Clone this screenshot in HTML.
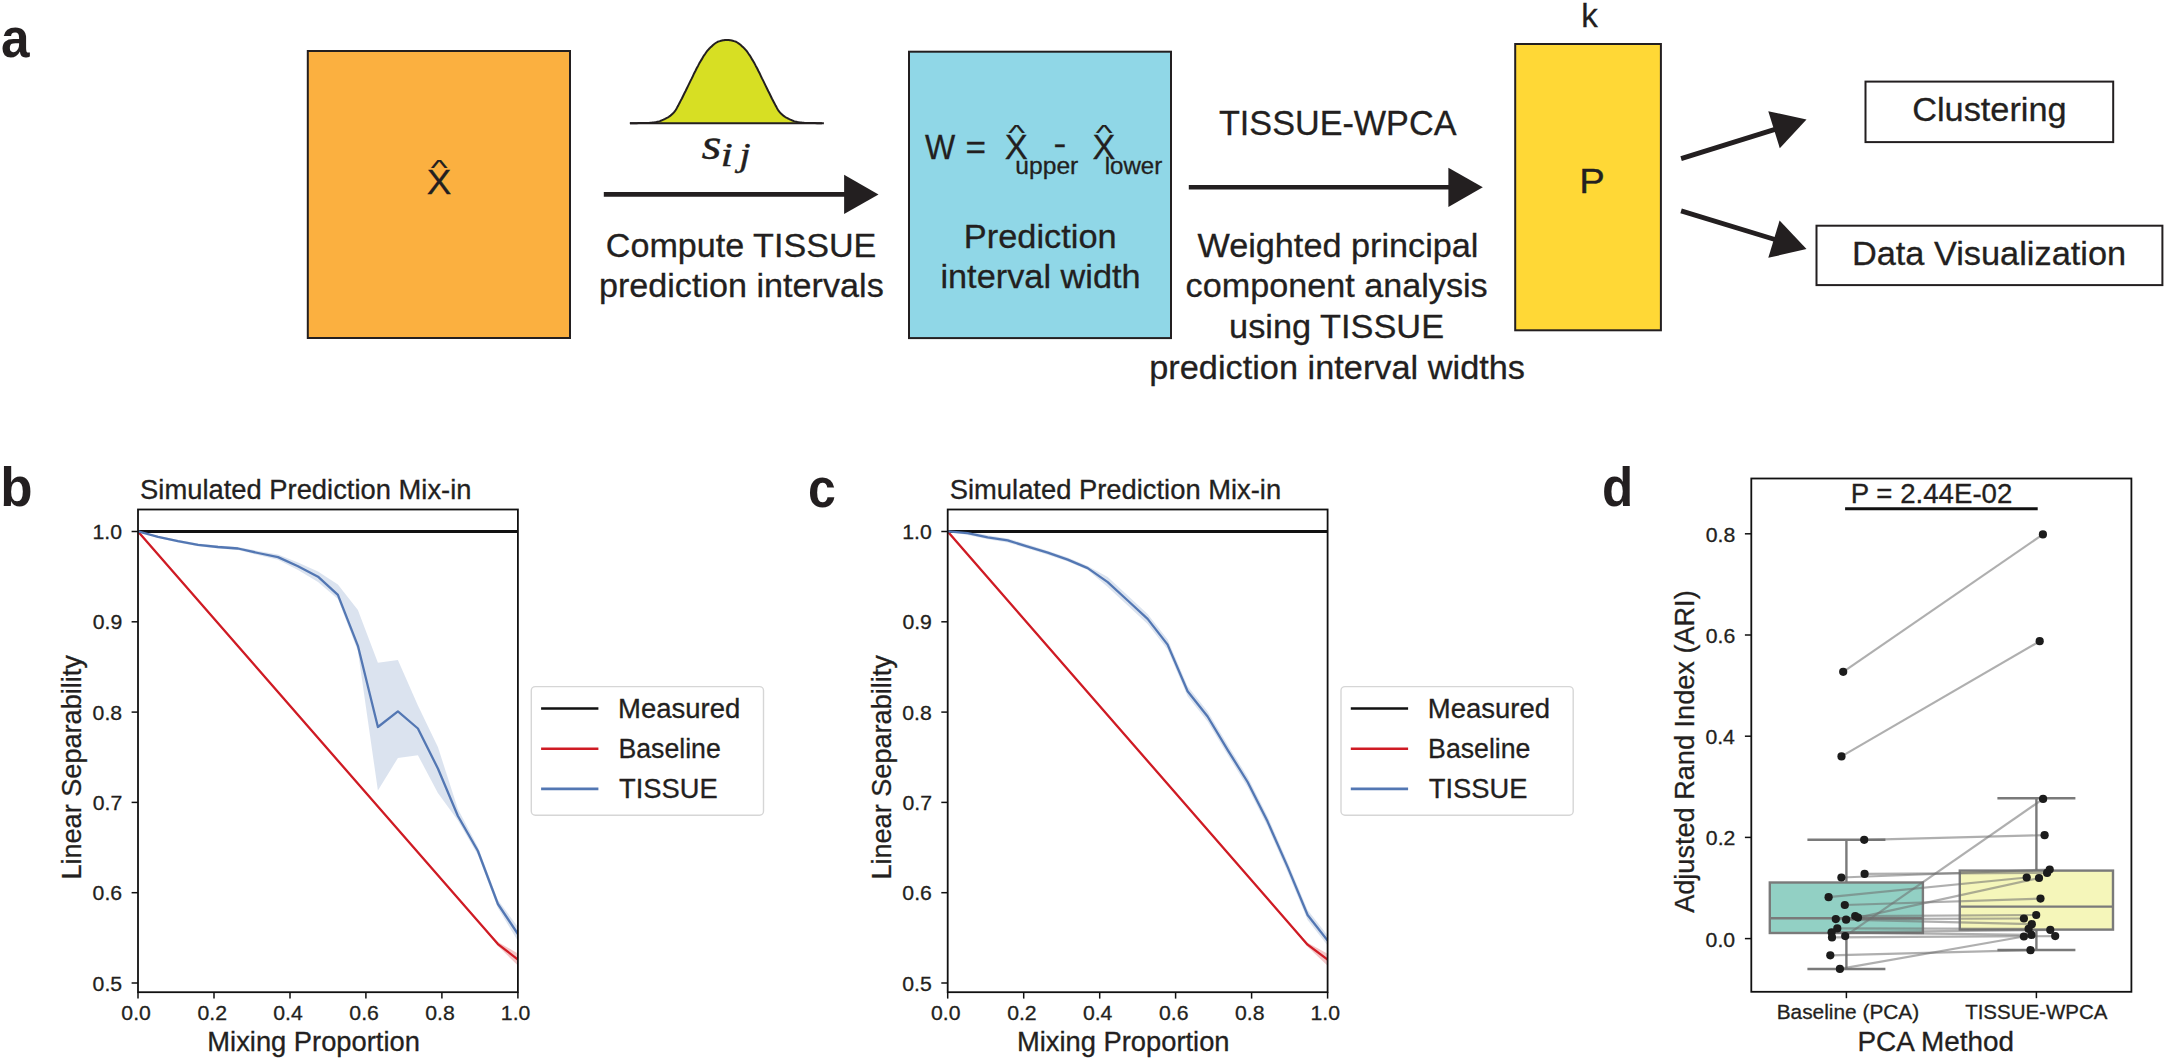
<!DOCTYPE html>
<html lang="en"><head><meta charset="utf-8"><title>TISSUE-WPCA figure</title>
<style>
html,body{margin:0;padding:0;background:#fff;}
body{width:2168px;height:1061px;overflow:hidden;}
svg{display:block;}
svg text{font-family:"Liberation Sans",Arial,Helvetica,sans-serif;stroke:#231f20;stroke-width:0.3px;}
svg text.math{font-family:"Liberation Serif","Times New Roman",serif;font-style:italic;}
</style></head><body>
<svg width="2168" height="1061" viewBox="0 0 2168 1061">
<rect width="2168" height="1061" fill="#ffffff"/>
<g id="panel-a">
<rect x="307.8" y="51" width="262.2" height="287" fill="#fbb040" stroke="#231f20" stroke-width="2"/>
<text x="426.79" y="194.4" font-size="34.9" textLength="24.58" lengthAdjust="spacingAndGlyphs" fill="#231f20">X</text>
<text transform="translate(439.2,175.47) scale(1,0.6)" font-size="35.8" text-anchor="middle" fill="#231f20" style="stroke-width:0.15px">^</text>
<path d="M629.9,123.2 L632.1,123.2 L634.4,123.2 L636.6,123.2 L638.8,123.1 L641.1,123.1 L643.3,123.0 L645.5,123.0 L647.7,122.9 L649.0,122.9 L650.2,122.8 L651.4,122.7 L652.7,122.5 L653.9,122.4 L655.2,122.2 L656.4,122.0 L657.6,121.7 L658.4,121.6 L659.1,121.4 L659.9,121.1 L660.6,120.8 L661.3,120.5 L662.1,120.2 L662.8,119.9 L663.6,119.6 L664.3,119.2 L665.0,118.9 L665.8,118.5 L666.5,118.1 L667.3,117.7 L668.0,117.3 L668.8,116.8 L669.5,116.3 L670.1,115.9 L670.7,115.4 L671.4,114.9 L672.0,114.3 L672.6,113.7 L673.2,113.1 L673.8,112.5 L674.5,111.7 L675.1,110.9 L675.7,110.0 L676.3,109.0 L676.9,107.9 L677.5,106.7 L678.2,105.6 L678.8,104.4 L679.4,103.2 L680.6,100.9 L681.9,98.5 L683.1,96.0 L684.3,93.5 L685.6,91.0 L686.8,88.5 L688.1,85.9 L689.3,83.4 L690.5,80.9 L691.8,78.4 L693.0,75.8 L694.2,73.2 L695.5,70.7 L696.7,68.2 L698.0,65.9 L699.2,63.6 L700.4,61.5 L701.7,59.4 L702.9,57.3 L704.1,55.3 L705.4,53.5 L706.6,51.7 L707.9,50.2 L709.1,48.8 L710.3,47.6 L711.6,46.4 L712.8,45.3 L714.0,44.2 L715.3,43.3 L716.5,42.5 L717.7,41.8 L719.0,41.4 L720.0,41.1 L721.0,40.8 L722.0,40.6 L722.9,40.3 L723.9,40.2 L724.9,40.0 L725.9,39.9 L726.9,39.9 L727.9,39.9 L728.9,40.0 L729.9,40.2 L730.9,40.3 L731.8,40.6 L732.8,40.8 L733.8,41.1 L734.8,41.4 L736.1,41.8 L737.3,42.5 L738.5,43.3 L739.8,44.2 L741.0,45.3 L742.2,46.4 L743.5,47.6 L744.7,48.8 L745.9,50.2 L747.2,51.7 L748.4,53.5 L749.7,55.3 L750.9,57.3 L752.1,59.4 L753.4,61.5 L754.6,63.6 L755.8,65.9 L757.1,68.2 L758.3,70.7 L759.6,73.2 L760.8,75.8 L762.0,78.4 L763.3,80.9 L764.5,83.4 L765.7,85.9 L767.0,88.5 L768.2,91.0 L769.5,93.5 L770.7,96.0 L771.9,98.5 L773.2,100.9 L774.4,103.2 L775.0,104.4 L775.6,105.6 L776.3,106.7 L776.9,107.9 L777.5,109.0 L778.1,110.0 L778.7,110.9 L779.3,111.7 L780.0,112.5 L780.6,113.1 L781.2,113.7 L781.8,114.3 L782.4,114.9 L783.1,115.4 L783.7,115.9 L784.3,116.3 L785.0,116.8 L785.8,117.3 L786.5,117.7 L787.3,118.1 L788.0,118.5 L788.8,118.9 L789.5,119.2 L790.2,119.6 L791.0,119.9 L791.7,120.2 L792.5,120.5 L793.2,120.8 L793.9,121.1 L794.7,121.4 L795.4,121.6 L796.2,121.7 L797.4,122.0 L798.6,122.2 L799.9,122.4 L801.1,122.5 L802.4,122.7 L803.6,122.8 L804.8,122.9 L806.1,122.9 L808.3,123.0 L810.5,123.0 L812.7,123.1 L815.0,123.1 L817.2,123.2 L819.4,123.2 L821.7,123.2 L823.9,123.2 Z" fill="#d7df23" stroke="none"/>
<path d="M629.9,123.2 L632.1,123.2 L634.4,123.2 L636.6,123.2 L638.8,123.1 L641.1,123.1 L643.3,123.0 L645.5,123.0 L647.7,122.9 L649.0,122.9 L650.2,122.8 L651.4,122.7 L652.7,122.5 L653.9,122.4 L655.2,122.2 L656.4,122.0 L657.6,121.7 L658.4,121.6 L659.1,121.4 L659.9,121.1 L660.6,120.8 L661.3,120.5 L662.1,120.2 L662.8,119.9 L663.6,119.6 L664.3,119.2 L665.0,118.9 L665.8,118.5 L666.5,118.1 L667.3,117.7 L668.0,117.3 L668.8,116.8 L669.5,116.3 L670.1,115.9 L670.7,115.4 L671.4,114.9 L672.0,114.3 L672.6,113.7 L673.2,113.1 L673.8,112.5 L674.5,111.7 L675.1,110.9 L675.7,110.0 L676.3,109.0 L676.9,107.9 L677.5,106.7 L678.2,105.6 L678.8,104.4 L679.4,103.2 L680.6,100.9 L681.9,98.5 L683.1,96.0 L684.3,93.5 L685.6,91.0 L686.8,88.5 L688.1,85.9 L689.3,83.4 L690.5,80.9 L691.8,78.4 L693.0,75.8 L694.2,73.2 L695.5,70.7 L696.7,68.2 L698.0,65.9 L699.2,63.6 L700.4,61.5 L701.7,59.4 L702.9,57.3 L704.1,55.3 L705.4,53.5 L706.6,51.7 L707.9,50.2 L709.1,48.8 L710.3,47.6 L711.6,46.4 L712.8,45.3 L714.0,44.2 L715.3,43.3 L716.5,42.5 L717.7,41.8 L719.0,41.4 L720.0,41.1 L721.0,40.8 L722.0,40.6 L722.9,40.3 L723.9,40.2 L724.9,40.0 L725.9,39.9 L726.9,39.9 L727.9,39.9 L728.9,40.0 L729.9,40.2 L730.9,40.3 L731.8,40.6 L732.8,40.8 L733.8,41.1 L734.8,41.4 L736.1,41.8 L737.3,42.5 L738.5,43.3 L739.8,44.2 L741.0,45.3 L742.2,46.4 L743.5,47.6 L744.7,48.8 L745.9,50.2 L747.2,51.7 L748.4,53.5 L749.7,55.3 L750.9,57.3 L752.1,59.4 L753.4,61.5 L754.6,63.6 L755.8,65.9 L757.1,68.2 L758.3,70.7 L759.6,73.2 L760.8,75.8 L762.0,78.4 L763.3,80.9 L764.5,83.4 L765.7,85.9 L767.0,88.5 L768.2,91.0 L769.5,93.5 L770.7,96.0 L771.9,98.5 L773.2,100.9 L774.4,103.2 L775.0,104.4 L775.6,105.6 L776.3,106.7 L776.9,107.9 L777.5,109.0 L778.1,110.0 L778.7,110.9 L779.3,111.7 L780.0,112.5 L780.6,113.1 L781.2,113.7 L781.8,114.3 L782.4,114.9 L783.1,115.4 L783.7,115.9 L784.3,116.3 L785.0,116.8 L785.8,117.3 L786.5,117.7 L787.3,118.1 L788.0,118.5 L788.8,118.9 L789.5,119.2 L790.2,119.6 L791.0,119.9 L791.7,120.2 L792.5,120.5 L793.2,120.8 L793.9,121.1 L794.7,121.4 L795.4,121.6 L796.2,121.7 L797.4,122.0 L798.6,122.2 L799.9,122.4 L801.1,122.5 L802.4,122.7 L803.6,122.8 L804.8,122.9 L806.1,122.9 L808.3,123.0 L810.5,123.0 L812.7,123.1 L815.0,123.1 L817.2,123.2 L819.4,123.2 L821.7,123.2 L823.9,123.2" fill="none" stroke="#231f20" stroke-width="2" stroke-linejoin="round"/>
<line x1="629.9" y1="123.2" x2="821.9" y2="123.2" stroke="#231f20" stroke-width="2.1"/>
<text class="math" transform="translate(701.4,158.8) scale(1.17,1)" font-size="44" fill="#231f20">s</text>
<text class="math" transform="translate(720.5,165.8) scale(1.35,1)" font-size="33" fill="#231f20">i</text>
<text class="math" transform="translate(739.2,165.8) scale(1.25,1)" font-size="33" fill="#231f20">j</text>
<line x1="603.8" y1="194.4" x2="845.1" y2="194.4" stroke="#231f20" stroke-width="4.6"/>
<polygon points="844.1,174.8 878.5,194.4 844.1,214.0" fill="#231f20"/>
<text x="605.78" y="256.6" font-size="34.1" textLength="270.56" lengthAdjust="spacingAndGlyphs" fill="#231f20">Compute TISSUE</text>
<text x="598.91" y="297.4" font-size="34.1" textLength="284.81" lengthAdjust="spacingAndGlyphs" fill="#231f20">prediction intervals</text>
<rect x="909" y="51.7" width="262" height="286.4" fill="#90d7e7" stroke="#231f20" stroke-width="2"/>
<text x="925.07" y="159.3" font-size="34.9" textLength="30.24" lengthAdjust="spacingAndGlyphs" fill="#231f20">W</text>
<text x="965.50" y="159.3" font-size="34.1" textLength="20.53" lengthAdjust="spacingAndGlyphs" fill="#231f20">=</text>
<text x="1004.74" y="159.0" font-size="34.9" textLength="22.98" lengthAdjust="spacingAndGlyphs" fill="#231f20">X</text>
<text transform="translate(1016.7,139.97) scale(1,0.6)" font-size="35.8" text-anchor="middle" fill="#231f20" style="stroke-width:0.15px">^</text>
<text x="1053.61" y="155.4" font-size="34.1" textLength="12.78" lengthAdjust="spacingAndGlyphs" fill="#231f20">-</text>
<text x="1092.55" y="159.0" font-size="34.9" textLength="22.77" lengthAdjust="spacingAndGlyphs" fill="#231f20">X</text>
<text transform="translate(1104.2,139.97) scale(1,0.6)" font-size="35.8" text-anchor="middle" fill="#231f20" style="stroke-width:0.15px">^</text>
<text x="1015.31" y="173.8" font-size="24" textLength="63.00" lengthAdjust="spacingAndGlyphs" fill="#231f20">upper</text>
<text x="1104.69" y="173.8" font-size="24" textLength="57.51" lengthAdjust="spacingAndGlyphs" fill="#231f20">lower</text>
<text x="963.88" y="247.6" font-size="34.1" textLength="152.85" lengthAdjust="spacingAndGlyphs" fill="#231f20">Prediction</text>
<text x="940.42" y="288.3" font-size="34.1" textLength="200.30" lengthAdjust="spacingAndGlyphs" fill="#231f20">interval width</text>
<text x="1218.95" y="135.1" font-size="34.9" textLength="237.50" lengthAdjust="spacingAndGlyphs" fill="#231f20">TISSUE-WPCA</text>
<line x1="1188.8" y1="187.3" x2="1449.3999999999999" y2="187.3" stroke="#231f20" stroke-width="4.6"/>
<polygon points="1448.3999999999999,167.70000000000002 1482.8,187.3 1448.3999999999999,206.9" fill="#231f20"/>
<text x="1197.46" y="256.5" font-size="34.1" textLength="281.02" lengthAdjust="spacingAndGlyphs" fill="#231f20">Weighted principal</text>
<text x="1185.56" y="297.1" font-size="34.1" textLength="302.16" lengthAdjust="spacingAndGlyphs" fill="#231f20">component analysis</text>
<text x="1229.09" y="338.1" font-size="34.1" textLength="214.96" lengthAdjust="spacingAndGlyphs" fill="#231f20">using TISSUE</text>
<text x="1149.20" y="379.0" font-size="34.1" textLength="375.83" lengthAdjust="spacingAndGlyphs" fill="#231f20">prediction interval widths</text>
<rect x="1515.2" y="44" width="145.7" height="286.3" fill="#ffd836" stroke="#231f20" stroke-width="2"/>
<text x="1581.28" y="26.6" font-size="34.1" textLength="16.57" lengthAdjust="spacingAndGlyphs" fill="#231f20">k</text>
<text x="1579.26" y="193" font-size="34.9" textLength="25.55" lengthAdjust="spacingAndGlyphs" fill="#231f20">P</text>
<line x1="1681.1" y1="158.6" x2="1775.0" y2="129.4" stroke="#231f20" stroke-width="4.8"/>
<polygon points="1779.8,148.2 1806.5,119.6 1768.3,111.2" fill="#231f20"/>
<line x1="1681.1" y1="210.9" x2="1774.9" y2="239.5" stroke="#231f20" stroke-width="4.8"/>
<polygon points="1768.3,257.8 1806.5,249.1 1779.6,220.6" fill="#231f20"/>
<rect x="1865.5" y="81.6" width="247.7" height="60.5" fill="#fff" stroke="#231f20" stroke-width="2"/>
<text x="1912.17" y="120.6" font-size="34.1" textLength="154.43" lengthAdjust="spacingAndGlyphs" fill="#231f20">Clustering</text>
<rect x="1816.5" y="225.7" width="345.9" height="59.4" fill="#fff" stroke="#231f20" stroke-width="2"/>
<text x="1851.88" y="264.6" font-size="34.1" textLength="274.24" lengthAdjust="spacingAndGlyphs" fill="#231f20">Data Visualization</text>
</g>
<text x="1.11" y="56.5" font-size="55" textLength="28.56" lengthAdjust="spacingAndGlyphs" fill="#231f20" font-weight="bold" style="stroke:none">a</text>
<text x="0.13" y="506.4" font-size="55" textLength="32.33" lengthAdjust="spacingAndGlyphs" fill="#231f20" font-weight="bold" style="stroke:none">b</text>
<text x="808.05" y="506.5" font-size="55" textLength="27.81" lengthAdjust="spacingAndGlyphs" fill="#231f20" font-weight="bold" style="stroke:none">c</text>
<text x="1602.00" y="506.1" font-size="55" textLength="31.27" lengthAdjust="spacingAndGlyphs" fill="#231f20" font-weight="bold" style="stroke:none">d</text>
<g id="panel-b">
<clipPath id="clip-panel-b"><rect x="138.0" y="509.5" width="379.9" height="482.70000000000005"/></clipPath>
<g clip-path="url(#clip-panel-b)">
<polygon points="138.0,531.4 158.0,535.8 178.0,540.0 198.0,543.5 218.0,545.5 238.0,547.0 258.0,551.0 278.0,554.5 298.0,562.5 318.0,571.5 337.9,584.5 357.9,610.0 377.9,662.7 397.9,660.0 417.9,705.5 437.9,747.0 457.9,809.0 477.9,847.0 497.9,900.0 517.9,927.0 517.9,941.0 497.9,908.0 477.9,855.0 457.9,820.5 437.9,793.0 417.9,755.2 397.9,758.0 377.9,790.5 357.9,651.0 337.9,599.0 318.0,582.0 298.0,570.0 278.0,559.7 258.0,555.0 238.0,550.0 218.0,548.5 198.0,546.3 178.0,542.4 158.0,537.8 138.0,531.4" fill="#5b7eb6" fill-opacity="0.22"/>
<polygon points="477.9,921.2 497.9,942.1 517.9,953.5 517.9,965.5 497.9,946.1" fill="#cf1b24" fill-opacity="0.25"/>
<line x1="138.0" y1="531.5" x2="517.9" y2="531.5" stroke="#111" stroke-width="2.8"/>
<polyline points="138.0,531.5 497.9,944.1 517.9,959.5" fill="none" stroke="#cf1b24" stroke-width="2.3" stroke-linejoin="round"/>
<polyline points="138.0,531.4 158.0,536.8 178.0,541.2 198.0,544.9 218.0,547.0 238.0,548.5 258.0,553.0 278.0,557.1 298.0,566.2 318.0,576.7 337.9,594.9 357.9,645.8 377.9,727.0 397.9,711.4 417.9,728.5 437.9,768.5 457.9,816.0 477.9,851.0 497.9,904.0 517.9,934.0" fill="none" stroke="#5377b3" stroke-width="2.3" stroke-linejoin="round"/>
</g>
<rect x="138.0" y="509.5" width="379.9" height="482.7" fill="none" stroke="#111" stroke-width="1.8"/>
<line x1="131.6" y1="983.0" x2="138.0" y2="983.0" stroke="#111" stroke-width="1.5"/>
<text x="92.59" y="990.5" font-size="20.5" textLength="29.50" lengthAdjust="spacingAndGlyphs" fill="#231f20">0.5</text>
<line x1="138.0" y1="992.2" x2="138.0" y2="998.6" stroke="#111" stroke-width="1.5"/>
<text x="121.35" y="1019.7" font-size="20.5" textLength="29.50" lengthAdjust="spacingAndGlyphs" fill="#231f20">0.0</text>
<line x1="131.6" y1="892.7" x2="138.0" y2="892.7" stroke="#111" stroke-width="1.5"/>
<text x="92.63" y="900.2" font-size="20.5" textLength="29.50" lengthAdjust="spacingAndGlyphs" fill="#231f20">0.6</text>
<line x1="214.0" y1="992.2" x2="214.0" y2="998.6" stroke="#111" stroke-width="1.5"/>
<text x="197.45" y="1019.7" font-size="20.5" textLength="29.50" lengthAdjust="spacingAndGlyphs" fill="#231f20">0.2</text>
<line x1="131.6" y1="802.4" x2="138.0" y2="802.4" stroke="#111" stroke-width="1.5"/>
<text x="92.77" y="809.9" font-size="20.5" textLength="29.50" lengthAdjust="spacingAndGlyphs" fill="#231f20">0.7</text>
<line x1="290.0" y1="992.2" x2="290.0" y2="998.6" stroke="#111" stroke-width="1.5"/>
<text x="273.21" y="1019.7" font-size="20.5" textLength="29.50" lengthAdjust="spacingAndGlyphs" fill="#231f20">0.4</text>
<line x1="131.6" y1="712.1" x2="138.0" y2="712.1" stroke="#111" stroke-width="1.5"/>
<text x="92.62" y="719.6" font-size="20.5" textLength="29.50" lengthAdjust="spacingAndGlyphs" fill="#231f20">0.8</text>
<line x1="365.9" y1="992.2" x2="365.9" y2="998.6" stroke="#111" stroke-width="1.5"/>
<text x="349.34" y="1019.7" font-size="20.5" textLength="29.50" lengthAdjust="spacingAndGlyphs" fill="#231f20">0.6</text>
<line x1="131.6" y1="621.8" x2="138.0" y2="621.8" stroke="#111" stroke-width="1.5"/>
<text x="92.70" y="629.3" font-size="20.5" textLength="29.50" lengthAdjust="spacingAndGlyphs" fill="#231f20">0.9</text>
<line x1="441.9" y1="992.2" x2="441.9" y2="998.6" stroke="#111" stroke-width="1.5"/>
<text x="425.32" y="1019.7" font-size="20.5" textLength="29.50" lengthAdjust="spacingAndGlyphs" fill="#231f20">0.8</text>
<line x1="131.6" y1="531.5" x2="138.0" y2="531.5" stroke="#111" stroke-width="1.5"/>
<text x="92.52" y="539.0" font-size="20.5" textLength="29.50" lengthAdjust="spacingAndGlyphs" fill="#231f20">1.0</text>
<line x1="517.9" y1="992.2" x2="517.9" y2="998.6" stroke="#111" stroke-width="1.5"/>
<text x="500.86" y="1019.7" font-size="20.5" textLength="29.50" lengthAdjust="spacingAndGlyphs" fill="#231f20">1.0</text>
<text x="140.07" y="499.2" font-size="26.8" textLength="331.40" lengthAdjust="spacingAndGlyphs" fill="#231f20">Simulated Prediction Mix-in</text>
<text x="207.36" y="1051.3" font-size="26.8" textLength="212.51" lengthAdjust="spacingAndGlyphs" fill="#231f20">Mixing Proportion</text>
<text transform="translate(81.40,879.62) rotate(-90)" font-size="26.8" textLength="224.46" lengthAdjust="spacingAndGlyphs" fill="#231f20">Linear Separability</text>
<rect x="531.3" y="686.6" width="232.2" height="128.6" rx="4" ry="4" fill="#fff" stroke="#d6d6d6" stroke-width="1.4"/>
<line x1="541.0999999999999" y1="708.5" x2="598.4" y2="708.5" stroke="#111" stroke-width="2.6"/>
<text x="618.05" y="718.0" font-size="26.8" textLength="122.22" lengthAdjust="spacingAndGlyphs" fill="#231f20">Measured</text>
<line x1="541.0999999999999" y1="748.7" x2="598.4" y2="748.7" stroke="#cf1b24" stroke-width="2.6"/>
<text x="618.41" y="758.2" font-size="26.8" textLength="102.36" lengthAdjust="spacingAndGlyphs" fill="#231f20">Baseline</text>
<line x1="541.0999999999999" y1="788.9" x2="598.4" y2="788.9" stroke="#5377b3" stroke-width="2.6"/>
<text x="619.10" y="798.4" font-size="26.8" textLength="98.66" lengthAdjust="spacingAndGlyphs" fill="#231f20">TISSUE</text>
</g>
<g id="panel-c">
<clipPath id="clip-panel-c"><rect x="947.7" y="509.5" width="379.89999999999986" height="482.70000000000005"/></clipPath>
<g clip-path="url(#clip-panel-c)">
<polygon points="947.7,531.4 967.7,531.1 987.7,535.3 1007.7,538.4 1027.7,544.6 1047.7,550.7 1067.7,557.6 1087.7,566.1 1107.7,577.1 1127.7,595.5 1147.6,613.9 1167.6,639.6 1187.6,686.2 1207.6,711.5 1227.6,744.8 1247.6,777.0 1267.6,816.6 1287.6,861.9 1307.6,910.0 1327.6,935.5 1327.6,945.5 1307.6,920.0 1287.6,871.9 1267.6,826.6 1247.6,787.0 1227.6,754.8 1207.6,721.5 1187.6,696.2 1167.6,649.6 1147.6,623.9 1127.7,605.5 1107.7,587.1 1087.7,570.1 1067.7,561.6 1047.7,554.7 1027.7,548.6 1007.7,542.4 987.7,539.3 967.7,535.1 947.7,531.4" fill="#5b7eb6" fill-opacity="0.22"/>
<polygon points="1287.6,921.7 1307.6,942.7 1327.6,953.7 1327.6,965.7 1307.6,946.7" fill="#cf1b24" fill-opacity="0.25"/>
<line x1="947.7" y1="531.5" x2="1327.6" y2="531.5" stroke="#111" stroke-width="2.8"/>
<polyline points="947.7,531.5 1307.6,944.7 1327.6,959.7" fill="none" stroke="#cf1b24" stroke-width="2.3" stroke-linejoin="round"/>
<polyline points="947.7,531.4 967.7,533.1 987.7,537.3 1007.7,540.4 1027.7,546.6 1047.7,552.7 1067.7,559.6 1087.7,568.1 1107.7,582.1 1127.7,600.5 1147.6,618.9 1167.6,644.6 1187.6,691.2 1207.6,716.5 1227.6,749.8 1247.6,782.0 1267.6,821.6 1287.6,866.9 1307.6,915.0 1327.6,940.5" fill="none" stroke="#5377b3" stroke-width="2.3" stroke-linejoin="round"/>
</g>
<rect x="947.7" y="509.5" width="379.9" height="482.7" fill="none" stroke="#111" stroke-width="1.8"/>
<line x1="941.3000000000001" y1="983.0" x2="947.7" y2="983.0" stroke="#111" stroke-width="1.5"/>
<text x="902.29" y="990.5" font-size="20.5" textLength="29.50" lengthAdjust="spacingAndGlyphs" fill="#231f20">0.5</text>
<line x1="947.7" y1="992.2" x2="947.7" y2="998.6" stroke="#111" stroke-width="1.5"/>
<text x="931.05" y="1019.7" font-size="20.5" textLength="29.50" lengthAdjust="spacingAndGlyphs" fill="#231f20">0.0</text>
<line x1="941.3000000000001" y1="892.7" x2="947.7" y2="892.7" stroke="#111" stroke-width="1.5"/>
<text x="902.33" y="900.2" font-size="20.5" textLength="29.50" lengthAdjust="spacingAndGlyphs" fill="#231f20">0.6</text>
<line x1="1023.7" y1="992.2" x2="1023.7" y2="998.6" stroke="#111" stroke-width="1.5"/>
<text x="1007.15" y="1019.7" font-size="20.5" textLength="29.50" lengthAdjust="spacingAndGlyphs" fill="#231f20">0.2</text>
<line x1="941.3000000000001" y1="802.4" x2="947.7" y2="802.4" stroke="#111" stroke-width="1.5"/>
<text x="902.47" y="809.9" font-size="20.5" textLength="29.50" lengthAdjust="spacingAndGlyphs" fill="#231f20">0.7</text>
<line x1="1099.7" y1="992.2" x2="1099.7" y2="998.6" stroke="#111" stroke-width="1.5"/>
<text x="1082.91" y="1019.7" font-size="20.5" textLength="29.50" lengthAdjust="spacingAndGlyphs" fill="#231f20">0.4</text>
<line x1="941.3000000000001" y1="712.1" x2="947.7" y2="712.1" stroke="#111" stroke-width="1.5"/>
<text x="902.32" y="719.6" font-size="20.5" textLength="29.50" lengthAdjust="spacingAndGlyphs" fill="#231f20">0.8</text>
<line x1="1175.6" y1="992.2" x2="1175.6" y2="998.6" stroke="#111" stroke-width="1.5"/>
<text x="1159.04" y="1019.7" font-size="20.5" textLength="29.50" lengthAdjust="spacingAndGlyphs" fill="#231f20">0.6</text>
<line x1="941.3000000000001" y1="621.8" x2="947.7" y2="621.8" stroke="#111" stroke-width="1.5"/>
<text x="902.40" y="629.3" font-size="20.5" textLength="29.50" lengthAdjust="spacingAndGlyphs" fill="#231f20">0.9</text>
<line x1="1251.6" y1="992.2" x2="1251.6" y2="998.6" stroke="#111" stroke-width="1.5"/>
<text x="1235.02" y="1019.7" font-size="20.5" textLength="29.50" lengthAdjust="spacingAndGlyphs" fill="#231f20">0.8</text>
<line x1="941.3000000000001" y1="531.5" x2="947.7" y2="531.5" stroke="#111" stroke-width="1.5"/>
<text x="902.22" y="539.0" font-size="20.5" textLength="29.50" lengthAdjust="spacingAndGlyphs" fill="#231f20">1.0</text>
<line x1="1327.6" y1="992.2" x2="1327.6" y2="998.6" stroke="#111" stroke-width="1.5"/>
<text x="1310.56" y="1019.7" font-size="20.5" textLength="29.50" lengthAdjust="spacingAndGlyphs" fill="#231f20">1.0</text>
<text x="949.77" y="499.2" font-size="26.8" textLength="331.40" lengthAdjust="spacingAndGlyphs" fill="#231f20">Simulated Prediction Mix-in</text>
<text x="1017.06" y="1051.3" font-size="26.8" textLength="212.51" lengthAdjust="spacingAndGlyphs" fill="#231f20">Mixing Proportion</text>
<text transform="translate(891.10,879.62) rotate(-90)" font-size="26.8" textLength="224.46" lengthAdjust="spacingAndGlyphs" fill="#231f20">Linear Separability</text>
<rect x="1341.0" y="686.6" width="232.2" height="128.6" rx="4" ry="4" fill="#fff" stroke="#d6d6d6" stroke-width="1.4"/>
<line x1="1350.8" y1="708.5" x2="1408.1" y2="708.5" stroke="#111" stroke-width="2.6"/>
<text x="1427.75" y="718.0" font-size="26.8" textLength="122.22" lengthAdjust="spacingAndGlyphs" fill="#231f20">Measured</text>
<line x1="1350.8" y1="748.7" x2="1408.1" y2="748.7" stroke="#cf1b24" stroke-width="2.6"/>
<text x="1428.11" y="758.2" font-size="26.8" textLength="102.36" lengthAdjust="spacingAndGlyphs" fill="#231f20">Baseline</text>
<line x1="1350.8" y1="788.9" x2="1408.1" y2="788.9" stroke="#5377b3" stroke-width="2.6"/>
<text x="1428.80" y="798.4" font-size="26.8" textLength="98.66" lengthAdjust="spacingAndGlyphs" fill="#231f20">TISSUE</text>
</g>
<g id="panel-d">
<line x1="1846.4" y1="839.7" x2="1846.4" y2="882.5" stroke="#7a7a7a" stroke-width="2.4"/>
<line x1="1846.4" y1="933" x2="1846.4" y2="969" stroke="#7a7a7a" stroke-width="2.4"/>
<line x1="1807.4" y1="839.7" x2="1885.4" y2="839.7" stroke="#7a7a7a" stroke-width="2.4"/>
<line x1="1807.4" y1="969" x2="1885.4" y2="969" stroke="#7a7a7a" stroke-width="2.4"/>
<rect x="1769.8" y="882.5" width="153.1" height="50.5" fill="#92d0c4" stroke="#7a7a7a" stroke-width="2.4"/>
<line x1="1769.8" y1="918.3" x2="1922.9" y2="918.3" stroke="#7a7a7a" stroke-width="2.4"/>
<line x1="2036.4" y1="798.3" x2="2036.4" y2="870.6" stroke="#7a7a7a" stroke-width="2.4"/>
<line x1="2036.4" y1="929.6" x2="2036.4" y2="950" stroke="#7a7a7a" stroke-width="2.4"/>
<line x1="1997.4" y1="798.3" x2="2075.4" y2="798.3" stroke="#7a7a7a" stroke-width="2.4"/>
<line x1="1997.4" y1="950" x2="2075.4" y2="950" stroke="#7a7a7a" stroke-width="2.4"/>
<rect x="1959.8" y="870.6" width="153.2" height="59.0" fill="#f5f6ba" stroke="#7a7a7a" stroke-width="2.4"/>
<line x1="1959.8" y1="906.6" x2="2113" y2="906.6" stroke="#7a7a7a" stroke-width="2.4"/>
<line x1="1843.2" y1="671.8" x2="2042.9" y2="534.4" stroke="#6e6e6e" stroke-opacity="0.55" stroke-width="2.2"/>
<line x1="1841.5" y1="756.4" x2="2039.7" y2="641.2" stroke="#6e6e6e" stroke-opacity="0.55" stroke-width="2.2"/>
<line x1="1864.2" y1="839.8" x2="2044.6" y2="835.2" stroke="#6e6e6e" stroke-opacity="0.55" stroke-width="2.2"/>
<line x1="1864.6" y1="873.9" x2="2047.1" y2="872.9" stroke="#6e6e6e" stroke-opacity="0.55" stroke-width="2.2"/>
<line x1="1841.4" y1="877.5" x2="2049.7" y2="869.5" stroke="#6e6e6e" stroke-opacity="0.55" stroke-width="2.2"/>
<line x1="1828.6" y1="897.2" x2="2026.7" y2="877.5" stroke="#6e6e6e" stroke-opacity="0.55" stroke-width="2.2"/>
<line x1="1844.8" y1="905.0" x2="2040.5" y2="898.6" stroke="#6e6e6e" stroke-opacity="0.55" stroke-width="2.2"/>
<line x1="1858.0" y1="917.6" x2="2039.0" y2="878.0" stroke="#6e6e6e" stroke-opacity="0.55" stroke-width="2.2"/>
<line x1="1845.2" y1="936.1" x2="2043.1" y2="798.9" stroke="#6e6e6e" stroke-opacity="0.55" stroke-width="2.2"/>
<line x1="1839.9" y1="968.9" x2="2023.9" y2="936.5" stroke="#6e6e6e" stroke-opacity="0.55" stroke-width="2.2"/>
<line x1="1830.3" y1="955.3" x2="2030.5" y2="950.2" stroke="#6e6e6e" stroke-opacity="0.55" stroke-width="2.2"/>
<line x1="1855.2" y1="916.1" x2="2036.2" y2="915.0" stroke="#6e6e6e" stroke-opacity="0.55" stroke-width="2.2"/>
<line x1="1835.8" y1="919.1" x2="2023.9" y2="918.5" stroke="#6e6e6e" stroke-opacity="0.55" stroke-width="2.2"/>
<line x1="1846.1" y1="919.7" x2="2031.8" y2="924.2" stroke="#6e6e6e" stroke-opacity="0.55" stroke-width="2.2"/>
<line x1="1837.3" y1="928.4" x2="2028.6" y2="928.9" stroke="#6e6e6e" stroke-opacity="0.55" stroke-width="2.2"/>
<line x1="1831.6" y1="932.3" x2="2031.4" y2="934.9" stroke="#6e6e6e" stroke-opacity="0.55" stroke-width="2.2"/>
<line x1="1832.0" y1="937.4" x2="2055.2" y2="936.1" stroke="#6e6e6e" stroke-opacity="0.55" stroke-width="2.2"/>
<line x1="1831.6" y1="932.3" x2="2050.3" y2="929.9" stroke="#6e6e6e" stroke-opacity="0.55" stroke-width="2.2"/>
<circle cx="1843.2" cy="671.8" r="4.1" fill="#1c1c1c"/>
<circle cx="1841.5" cy="756.4" r="4.1" fill="#1c1c1c"/>
<circle cx="1864.2" cy="839.8" r="4.1" fill="#1c1c1c"/>
<circle cx="1864.6" cy="873.9" r="4.1" fill="#1c1c1c"/>
<circle cx="1841.4" cy="877.5" r="4.1" fill="#1c1c1c"/>
<circle cx="1828.6" cy="897.2" r="4.1" fill="#1c1c1c"/>
<circle cx="1844.8" cy="905.0" r="4.1" fill="#1c1c1c"/>
<circle cx="1855.2" cy="916.1" r="4.1" fill="#1c1c1c"/>
<circle cx="1858.0" cy="917.6" r="4.1" fill="#1c1c1c"/>
<circle cx="1835.8" cy="919.1" r="4.1" fill="#1c1c1c"/>
<circle cx="1846.1" cy="919.7" r="4.1" fill="#1c1c1c"/>
<circle cx="1837.3" cy="928.4" r="4.1" fill="#1c1c1c"/>
<circle cx="1831.6" cy="932.3" r="4.1" fill="#1c1c1c"/>
<circle cx="1832.0" cy="937.4" r="4.1" fill="#1c1c1c"/>
<circle cx="1845.2" cy="936.1" r="4.1" fill="#1c1c1c"/>
<circle cx="1830.3" cy="955.3" r="4.1" fill="#1c1c1c"/>
<circle cx="1839.9" cy="968.9" r="4.1" fill="#1c1c1c"/>
<circle cx="2042.9" cy="534.4" r="4.1" fill="#1c1c1c"/>
<circle cx="2039.7" cy="641.2" r="4.1" fill="#1c1c1c"/>
<circle cx="2043.1" cy="798.9" r="4.1" fill="#1c1c1c"/>
<circle cx="2044.6" cy="835.2" r="4.1" fill="#1c1c1c"/>
<circle cx="2049.7" cy="869.5" r="4.1" fill="#1c1c1c"/>
<circle cx="2047.1" cy="872.9" r="4.1" fill="#1c1c1c"/>
<circle cx="2026.7" cy="877.5" r="4.1" fill="#1c1c1c"/>
<circle cx="2039.0" cy="878.0" r="4.1" fill="#1c1c1c"/>
<circle cx="2040.5" cy="898.6" r="4.1" fill="#1c1c1c"/>
<circle cx="2036.2" cy="915.0" r="4.1" fill="#1c1c1c"/>
<circle cx="2023.9" cy="918.5" r="4.1" fill="#1c1c1c"/>
<circle cx="2031.8" cy="924.2" r="4.1" fill="#1c1c1c"/>
<circle cx="2028.6" cy="928.9" r="4.1" fill="#1c1c1c"/>
<circle cx="2050.3" cy="929.9" r="4.1" fill="#1c1c1c"/>
<circle cx="2031.4" cy="934.9" r="4.1" fill="#1c1c1c"/>
<circle cx="2023.9" cy="936.5" r="4.1" fill="#1c1c1c"/>
<circle cx="2055.2" cy="936.1" r="4.1" fill="#1c1c1c"/>
<circle cx="2030.5" cy="950.2" r="4.1" fill="#1c1c1c"/>
<rect x="1751.3" y="478.5" width="380.1" height="513.3" fill="none" stroke="#111" stroke-width="1.8"/>
<line x1="1744.8999999999999" y1="938.6" x2="1751.3" y2="938.6" stroke="#111" stroke-width="1.5"/>
<text x="1705.62" y="946.5" font-size="20.5" textLength="29.50" lengthAdjust="spacingAndGlyphs" fill="#231f20">0.0</text>
<line x1="1744.8999999999999" y1="837.4" x2="1751.3" y2="837.4" stroke="#111" stroke-width="1.5"/>
<text x="1705.87" y="845.3" font-size="20.5" textLength="29.50" lengthAdjust="spacingAndGlyphs" fill="#231f20">0.2</text>
<line x1="1744.8999999999999" y1="736.2" x2="1751.3" y2="736.2" stroke="#111" stroke-width="1.5"/>
<text x="1705.42" y="744.1" font-size="20.5" textLength="29.50" lengthAdjust="spacingAndGlyphs" fill="#231f20">0.4</text>
<line x1="1744.8999999999999" y1="635.0" x2="1751.3" y2="635.0" stroke="#111" stroke-width="1.5"/>
<text x="1705.73" y="642.9" font-size="20.5" textLength="29.50" lengthAdjust="spacingAndGlyphs" fill="#231f20">0.6</text>
<line x1="1744.8999999999999" y1="533.8" x2="1751.3" y2="533.8" stroke="#111" stroke-width="1.5"/>
<text x="1705.72" y="541.7" font-size="20.5" textLength="29.50" lengthAdjust="spacingAndGlyphs" fill="#231f20">0.8</text>
<line x1="1846.4" y1="991.8" x2="1846.4" y2="998.1999999999999" stroke="#111" stroke-width="1.5"/>
<line x1="2036.4" y1="991.8" x2="2036.4" y2="998.1999999999999" stroke="#111" stroke-width="1.5"/>
<text x="1776.69" y="1019.1" font-size="20.5" textLength="142.50" lengthAdjust="spacingAndGlyphs" fill="#231f20">Baseline (PCA)</text>
<text x="1965.15" y="1019.1" font-size="20.5" textLength="142.18" lengthAdjust="spacingAndGlyphs" fill="#231f20">TISSUE-WPCA</text>
<text x="1857.51" y="1051.2" font-size="26.8" textLength="156.48" lengthAdjust="spacingAndGlyphs" fill="#231f20">PCA Method</text>
<text transform="translate(1694.00,912.84) rotate(-90)" font-size="26.8" textLength="322.52" lengthAdjust="spacingAndGlyphs" fill="#231f20">Adjusted Rand Index (ARI)</text>
<text x="1850.73" y="502.9" font-size="26.8" textLength="161.65" lengthAdjust="spacingAndGlyphs" fill="#231f20">P = 2.44E-02</text>
<line x1="1845.1" y1="508.8" x2="2037.7" y2="508.8" stroke="#111" stroke-width="3"/>
</g>
</svg>
</body></html>
